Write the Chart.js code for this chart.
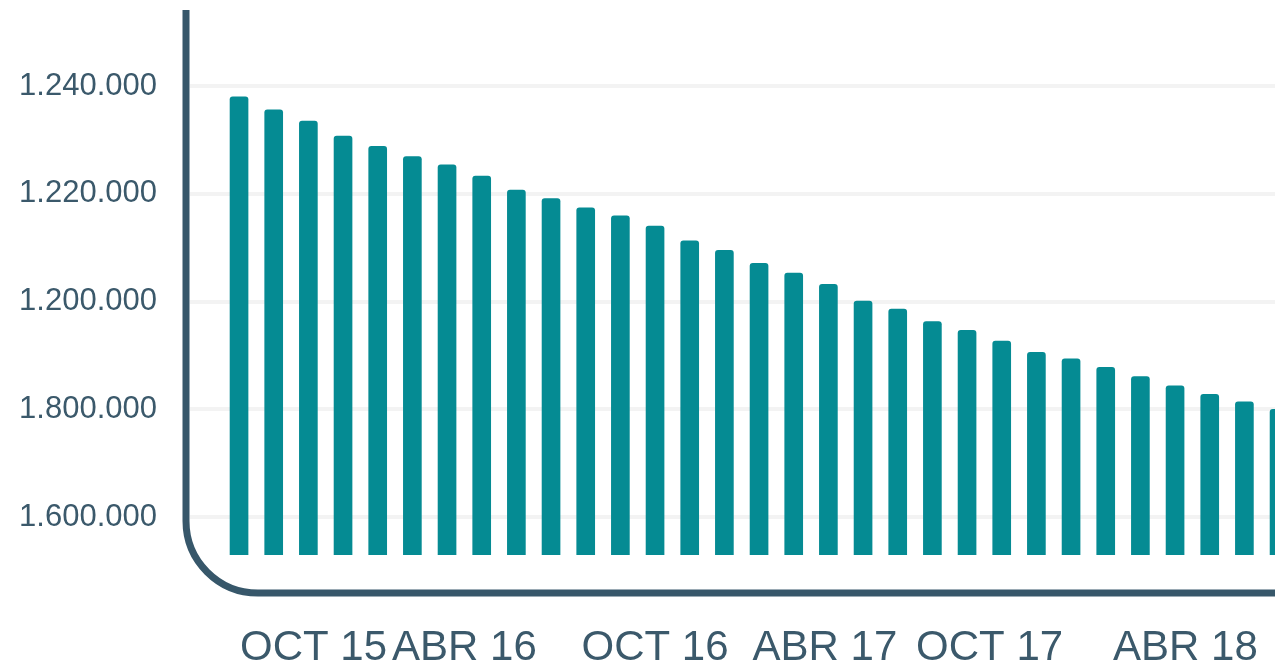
<!DOCTYPE html>
<html>
<head>
<meta charset="utf-8">
<script src="https://cdn.jsdelivr.net/npm/chart.js@4.4.1/dist/chart.umd.min.js"></script>
<style>
  html, body { margin: 0; padding: 0; background: #ffffff; overflow: hidden; }
  #clip { width: 1275px; height: 666px; overflow: hidden; position: relative; }
  #wrap { width: 1300px; height: 666px; position: absolute; left: 0; top: 0; }
</style>
</head>
<body>
<div id="clip"><div id="wrap"><canvas id="c"></canvas></div></div>
<script>
// ---- data ----
const values = [
  1238000, 1235600, 1233500, 1230700, 1228800, 1226900, 1225400, 1223300,
  1220700, 1219100, 1217400, 1215900, 1214000, 1211300, 1209500, 1207100,
  1205300, 1203200, 1200100, 1198600, 1196300, 1194700, 1192700, 1190600,
  1189400, 1187800, 1186100, 1184400, 1182800, 1181400, 1180000
];
const yTickValues = [1160000, 1180000, 1200000, 1220000, 1240000];
const yTickLabels = ['1.600.000', '1.800.000', '1.200.000', '1.220.000', '1.240.000'];
const xTickLabels = ['OCT 15', 'ABR 16', 'OCT 16', 'ABR 17', 'OCT 17', 'ABR 18'];
const xTickAt = [2.15, 6.5, 12, 16.9, 21.65, 27.3];

const TEXT = '#3b596b';
const FRAME = '#37576a';
const BAR = '#058b93';
const GRID = '#f3f3f3';

const framePlugin = {
  id: 'frame',
  beforeDatasetsDraw(chart) {
    const ctx = chart.ctx, a = chart.chartArea;
    const x0 = a.left - 35.7;
    const yb = a.bottom + 38;
    const r = 72;
    ctx.save();
    ctx.strokeStyle = FRAME;
    ctx.lineWidth = 7;
    ctx.lineCap = 'butt';
    ctx.beginPath();
    ctx.moveTo(x0, a.top);
    ctx.lineTo(x0, yb - r);
    ctx.arcTo(x0, yb, x0 + r, yb, r);
    ctx.lineTo(chart.width, yb);
    ctx.stroke();
    ctx.restore();
  }
};

new Chart(document.getElementById('c'), {
  type: 'bar',
  data: {
    datasets: [{
      data: values.map((v, i) => ({ x: i, y: v })),
      backgroundColor: BAR,
      barThickness: 18,
      borderRadius: 3,
      borderSkipped: false
    }]
  },
  options: {
    responsive: true,
    maintainAspectRatio: false,
    animation: false,
    layout: { padding: { top: 10, right: 3.6, bottom: 0, left: 0 } },
    plugins: { legend: { display: false }, tooltip: { enabled: false } },
    scales: {
      x: {
        type: 'linear',
        min: -0.5,
        max: 30.5,
        offset: false,
        grid: { display: false, drawTicks: false },
        border: { display: false },
        afterBuildTicks: s => { s.ticks = xTickAt.map(v => ({ value: v })); },
        afterFit: s => { s.height = 111; s.paddingLeft = 0; s.paddingRight = 0; },
        ticks: {
          autoSkip: false,
          maxRotation: 0,
          minRotation: 0,
          padding: 68,
          color: TEXT,
          font: { family: 'Liberation Sans', size: 42 },
          callback: (v, i) => xTickLabels[i]
        }
      },
      y: {
        type: 'linear',
        min: 1153000,
        max: 1254100,
        grid: { color: GRID, lineWidth: 4, drawTicks: true, tickLength: 32, tickColor: GRID },
        border: { display: false },
        afterBuildTicks: s => { s.ticks = yTickValues.map(v => ({ value: v })); },
        afterFit: s => { s.width = 221.7; s.paddingTop = 0; s.paddingBottom = 0; },
        ticks: {
          padding: 32.7,
          color: TEXT,
          font: { family: 'Liberation Sans', size: 31 },
          callback: (v, i) => yTickLabels[i]
        }
      }
    }
  },
  plugins: [framePlugin]
});
</script>
</body>
</html>
